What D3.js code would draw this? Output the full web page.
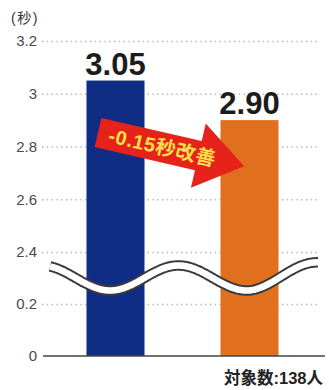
<!DOCTYPE html>
<html>
<head>
<meta charset="utf-8">
<script src="https://cdn.jsdelivr.net/npm/d3@7/dist/d3.min.js"></script>
<style>
  html, body { margin: 0; padding: 0; background: #fff; }
  svg { display: block; }
</style>
</head>
<body>
<script>
// Data
const categories = ["実施前", "実施後"];
const values = [3.05, 2.90];
const valueLabels = ["3.05", "2.90"];
const barColors = ["#0f2d84", "#e0701e"];
const upperTicks = [2.4, 2.6, 2.8, 3.0, 3.2];
const upperTickLabels = ["2.4", "2.6", "2.8", "3", "3.2"];
const lowerTicks = [0, 0.2];
const lowerTickLabels = ["0", "0.2"];
const unitLabel = "(秒)";
const changeLabel = "-0.15秒改善";
const sampleLabel = "対象数:138人";

const W = 329, H = 390;
const latin = "'Liberation Sans', Arial, Helvetica, sans-serif";
const cjk = "'Liberation Sans', 'Noto Sans CJK JP', sans-serif";

const svg = d3.select("body").append("svg")
  .attr("width", W).attr("height", H);

// Broken value axis: two linear segments
const yUpper = d3.scaleLinear().domain([2.4, 3.2]).range([252, 41]);
const yLower = d3.scaleLinear().domain([0, 0.2]).range([356, 304]);
const x = d3.scaleBand().domain(categories).range([43, 322])
  .paddingInner(0.567).paddingOuter(0.3245);

const gridX0 = 42, gridX1 = 320;

// Axes with dotted gridlines
function drawAxis(scale, ticks, labels) {
  const labelOf = new Map(ticks.map((t, i) => [t, labels[i]]));
  const g = svg.append("g")
    .attr("transform", `translate(${gridX0},0)`)
    .call(d3.axisLeft(scale).tickValues(ticks)
      .tickFormat(d => labelOf.get(d))
      .tickSize(-(gridX1 - gridX0)).tickPadding(5));
  g.select(".domain").remove();
  g.selectAll(".tick line")
    .attr("stroke", "#b5b5b5")
    .attr("stroke-width", 1.4)
    .attr("stroke-dasharray", "1.4,3.4");
  g.selectAll(".tick text")
    .attr("fill", "#4a4a4a")
    .style("font-family", latin)
    .style("font-size", "15px");
  return g;
}
const axU = drawAxis(yUpper, upperTicks, upperTickLabels);
const axL = drawAxis(yLower, lowerTicks, lowerTickLabels);
// the zero line is a solid baseline instead of a dotted rule
axL.selectAll(".tick").filter(d => d === 0).select("line").remove();

// Bars run from the baseline up to the value on the upper segment
svg.append("g").selectAll("rect")
  .data(values)
  .join("rect")
  .attr("x", (d, i) => x(categories[i]))
  .attr("width", x.bandwidth())
  .attr("y", d => yUpper(d))
  .attr("height", d => yLower(0) - yUpper(d))
  .attr("fill", (d, i) => barColors[i]);

// Baseline
svg.append("line")
  .attr("x1", 43).attr("x2", 325)
  .attr("y1", yLower(0)).attr("y2", yLower(0))
  .attr("stroke", "#444").attr("stroke-width", 1.5);

// Axis break symbol: wavy white band edged by two dark lines
const waveXs = d3.range(50, 319, 1);
const waveMid = (yUpper(2.4) + yLower(0.2)) / 2;
const wave = d3.line()
  .x(d => d)
  .y(d => waveMid + 12.5 * Math.cos(2 * Math.PI * (d - 110) / 137) - 0.048 * Math.max(0, d - 250));
svg.append("path").attr("d", wave(waveXs))
  .attr("fill", "none").attr("stroke", "#3a3a3a").attr("stroke-width", 10.5);
svg.append("path").attr("d", wave(waveXs))
  .attr("fill", "none").attr("stroke", "#ffffff").attr("stroke-width", 6.6);

// Value labels above bars
svg.append("g").selectAll("text")
  .data(values)
  .join("text")
  .attr("x", (d, i) => x(categories[i]) + x.bandwidth() / 2)
  .attr("y", d => yUpper(d) - 6)
  .attr("text-anchor", "middle")
  .attr("fill", "#1c1c1c")
  .style("font-family", latin)
  .style("font-weight", "bold")
  .style("font-size", "31px")
  .text((d, i) => valueLabels[i]);

// Change arrow between the bars
const a0 = [x(categories[0]) + 11.5, 132.5];
const angle = 13;
const bodyLen = 103, headLen = 47, bodyHalf = 15, headHalf = 33;
const arrowPts = [
  [0, -bodyHalf], [bodyLen, -bodyHalf], [bodyLen, -headHalf],
  [bodyLen + headLen, 0],
  [bodyLen, headHalf], [bodyLen, bodyHalf], [0, bodyHalf]
];
const arrow = svg.append("g")
  .attr("transform", `translate(${a0[0]},${a0[1]}) rotate(${angle})`);
arrow.append("path")
  .attr("d", d3.line()(arrowPts) + "Z")
  .attr("fill", "#e6231b");
arrow.append("text")
  .attr("x", 66).attr("y", 7)
  .attr("text-anchor", "middle")
  .attr("fill", "#ffdf4a")
  .style("font-family", cjk)
  .style("font-weight", "bold")
  .style("font-size", "20px")
  .style("letter-spacing", "0.5px")
  .text(changeLabel);

// Unit label
svg.append("text")
  .attr("x", 11).attr("y", 23)
  .attr("fill", "#333")
  .style("font-family", cjk)
  .style("font-size", "14px")
  .style("letter-spacing", "1.5px")
  .text(unitLabel);

// Sample size note
svg.append("text")
  .attr("x", 323).attr("y", 384)
  .attr("text-anchor", "end")
  .attr("fill", "#222")
  .style("font-family", cjk)
  .style("font-weight", "bold")
  .style("font-size", "16.5px")
  .text(sampleLabel);
</script>
</body>
</html>
